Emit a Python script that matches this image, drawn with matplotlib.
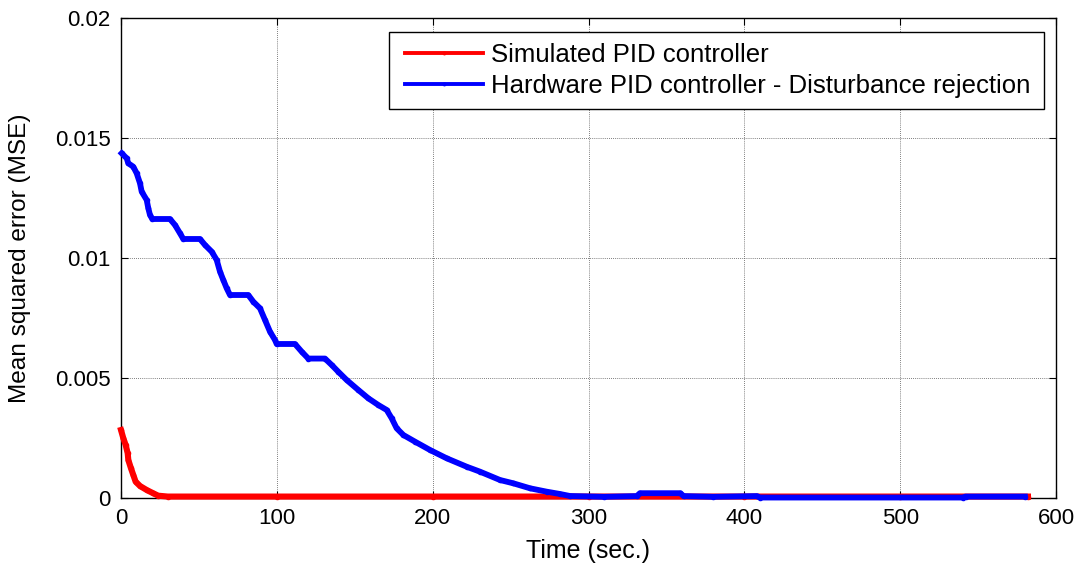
import matplotlib
matplotlib.use("Agg")
import matplotlib.pyplot as plt
from matplotlib.patches import Rectangle
from matplotlib.ticker import FuncFormatter

plt.rcParams['font.family'] = ['Liberation Sans', 'DejaVu Sans']

# Simulated PID controller MSE over time
sim_time = [0.0, 1.5, 3.0, 4.3, 4.7, 6.4, 7.9, 9.4, 12.2, 16.5, 20.7, 23.9, 30.0,
            100.0, 200.0, 300.0, 400.0, 500.0, 582.0]
sim_mse = [0.002833, 0.002487, 0.002208, 0.001863, 0.001583, 0.001238, 0.000958,
           0.000679, 0.000500, 0.000333, 0.000196, 0.000096, 0.00006,
           0.00006, 0.00006, 0.00006, 0.00006, 0.00006, 0.00006]

# Hardware PID controller MSE (disturbance rejection)
hw_time = [0.45, 3.66, 4.68, 7.89, 10.07, 12.19, 13.28, 16.49, 17.52, 18.61, 20.09,
           31.44, 34.65, 37.86, 39.98, 50.70, 53.91, 58.21, 61.41, 63.53, 65.65, 67.83,
           69.95, 81.69, 84.90, 89.20, 92.41, 95.62, 98.83, 99.92, 111.66, 115.96,
           120.2, 130.9, 135.2, 139.4, 144.8, 152.3, 158.7, 165.1, 170.5, 173.7, 176.9,
           181.2, 188.7, 198.3, 209.0, 221.8, 230.4, 243.2, 251.8, 262.5, 273.2, 281.7,
           288.1, 310.0, 331.0, 333.0, 359.0, 361.0, 380.0, 408.0, 410.0, 540.0, 542.0,
           580.0]
hw_mse = [0.014363, 0.014154, 0.013946, 0.013804, 0.013529, 0.013113, 0.012763,
          0.012417, 0.012071, 0.011792, 0.011625, 0.011625, 0.011375, 0.011029,
          0.010792, 0.010792, 0.010542, 0.010263, 0.009917, 0.009429, 0.009083,
          0.008738, 0.008458, 0.008458, 0.008179, 0.007904, 0.007417, 0.006929,
          0.006583, 0.006417, 0.006417, 0.006096, 0.005810, 0.005810, 0.005542,
          0.005263, 0.004917, 0.004500, 0.004154, 0.003875, 0.003667, 0.003321,
          0.002904, 0.002625, 0.002346, 0.002000, 0.001654, 0.001304, 0.001096,
          0.000750, 0.000611, 0.000404, 0.000263, 0.000167, 0.000083, 0.00005,
          0.00008, 0.00020, 0.00020, 0.00008, 0.00005, 0.00008, 0.00002, 0.00002,
          0.00006, 0.00006]

x_ticks = [0, 100, 200, 300, 400, 500, 600]
y_ticks = [0, 0.005, 0.01, 0.015, 0.02]

W, H = 1085, 564
fig = plt.figure(figsize=(W / 100, H / 100), dpi=100)
ax = fig.add_axes([121 / W, 66 / H, 935 / W, 480 / H])

ax.plot(sim_time, sim_mse, '.-', color='#ff0000', lw=4.4, ms=6,
        label='Simulated PID controller', clip_on=False, zorder=3)
ax.plot(hw_time, hw_mse, '.-', color='#0000ff', lw=4.2, ms=6,
        label='Hardware PID controller - Disturbance rejection', clip_on=False, zorder=4)

ax.set_xlim(0, 600)
ax.set_ylim(0, 0.02)
ax.set_xticks(x_ticks)
ax.set_yticks(y_ticks)
ax.yaxis.set_major_formatter(FuncFormatter(lambda v, p: '%g' % v))
ax.tick_params(direction='in', length=5, width=0.8, labelsize=16,
               top=True, right=True, pad=7.5)

ax.grid(True, linestyle=(0, (1, 1.5)), color='#555555', linewidth=0.6)
ax.set_axisbelow(True)
for s in ax.spines.values():
    s.set_linewidth(1.0)
    s.set_color('black')

ax.set_xlabel('Time (sec.)', fontsize=18, va='center')
ax.xaxis.set_label_coords(0.5, -53 / 480)
ax.set_ylabel('Mean squared error (MSE)', fontsize=17.6, va='center')
ax.yaxis.set_label_coords(-101 / 935, 0.5)

# legend entries without their own frame, boxed by a plain rectangle beneath them
leg = ax.legend(loc='center left', bbox_to_anchor=(405 / W, 1 - 70.5 / H),
                bbox_transform=fig.transFigure, fontsize=18.5, frameon=False,
                handlelength=3.05, handletextpad=0.3, labelspacing=0.3,
                borderpad=0, borderaxespad=0, markerscale=0.6)
for line in leg.get_lines():
    line.set_linewidth(2.8)
leg.set_zorder(6)
ax.add_patch(Rectangle((389 / W, 1 - 109 / H), 655 / W, 77 / H,
                       transform=fig.transFigure, facecolor='white',
                       edgecolor='black', linewidth=1.0, zorder=5, clip_on=False))

fig.savefig('out.png', dpi=100)
